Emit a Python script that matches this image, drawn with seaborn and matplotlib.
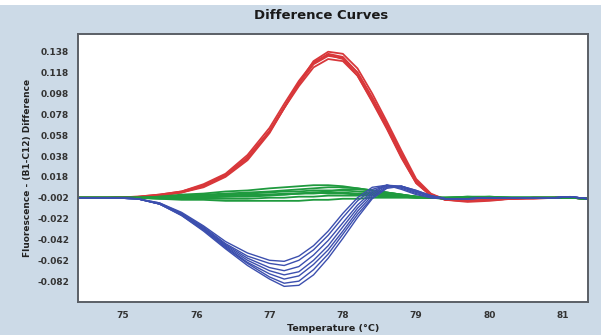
import matplotlib
matplotlib.use("Agg")
import matplotlib.pyplot as plt
from matplotlib.patches import Rectangle
import seaborn as sns
import pandas as pd

# Temperature grid (degrees C) shared by all curves
temps = [74.4, 74.8, 75.2, 75.5, 75.8, 76.1, 76.4, 76.7, 77.0, 77.2, 77.4, 77.6, 77.8, 78.0,
         78.2, 78.4, 78.6, 78.8, 79.0, 79.2, 79.4, 79.7, 80.0, 80.3, 80.6, 80.9, 81.1, 81.34]

# Red group (positive peak)
red_1 = [-0.002, -0.002, -0.0015, 0.000, 0.003, 0.009, 0.019, 0.036, 0.062, 0.085, 0.108, 0.127, 0.136, 0.133,
         0.118, 0.094, 0.068, 0.040, 0.014, 0.001, -0.004, -0.005, -0.004, -0.003, -0.0025, -0.002, -0.002, -0.003]
red_2 = [-0.002, -0.002, -0.0015, 0.000, 0.003, 0.008, 0.018, 0.034, 0.060, 0.084, 0.108, 0.129, 0.138, 0.136,
         0.122, 0.098, 0.071, 0.043, 0.016, 0.002, -0.004, -0.005, -0.004, -0.003, -0.002, -0.002, -0.002, -0.003]
red_3 = [-0.002, -0.002, -0.001, 0.001, 0.004, 0.010, 0.020, 0.037, 0.062, 0.084, 0.105, 0.123, 0.131, 0.129,
         0.115, 0.091, 0.065, 0.037, 0.012, 0.000, -0.004, -0.005, -0.004, -0.003, -0.003, -0.002, -0.002, -0.003]
red_4 = [-0.002, -0.002, -0.0015, 0.0005, 0.0035, 0.009, 0.019, 0.035, 0.061, 0.084, 0.107, 0.126, 0.134, 0.132,
         0.118, 0.094, 0.068, 0.040, 0.014, 0.001, -0.003, -0.005, -0.004, -0.003, -0.002, -0.002, -0.002, -0.003]
red_5 = [-0.002, -0.002, -0.001, 0.001, 0.004, 0.011, 0.021, 0.039, 0.065, 0.088, 0.110, 0.128, 0.135, 0.131,
         0.115, 0.090, 0.064, 0.036, 0.012, 0.000, -0.004, -0.006, -0.005, -0.003, -0.002, -0.002, -0.002, -0.003]

# Blue group (negative trough)
blue_1 = [-0.002, -0.002, -0.003, -0.007, -0.016, -0.029, -0.044, -0.055, -0.062, -0.063, -0.058, -0.048, -0.034, -0.017,
          -0.002, 0.008, 0.010, 0.006, 0.001, -0.002, -0.003, -0.003, -0.002, -0.002, -0.002, -0.002, -0.001, -0.003]
blue_2 = [-0.002, -0.002, -0.003, -0.007, -0.017, -0.030, -0.046, -0.058, -0.065, -0.067, -0.062, -0.052, -0.038, -0.021,
          -0.005, 0.006, 0.010, 0.007, 0.002, -0.002, -0.003, -0.003, -0.002, -0.002, -0.002, -0.002, -0.001, -0.003]
blue_3 = [-0.002, -0.002, -0.003, -0.008, -0.017, -0.031, -0.047, -0.060, -0.069, -0.072, -0.068, -0.057, -0.043, -0.026,
          -0.009, 0.004, 0.010, 0.008, 0.003, -0.001, -0.003, -0.003, -0.002, -0.002, -0.002, -0.002, -0.001, -0.003]
blue_4 = [-0.002, -0.002, -0.003, -0.008, -0.018, -0.032, -0.048, -0.062, -0.072, -0.076, -0.073, -0.062, -0.048, -0.030,
          -0.012, 0.002, 0.010, 0.009, 0.004, -0.001, -0.003, -0.003, -0.002, -0.002, -0.002, -0.002, -0.001, -0.003]
blue_5 = [-0.002, -0.002, -0.003, -0.008, -0.018, -0.032, -0.049, -0.064, -0.075, -0.080, -0.077, -0.066, -0.052, -0.034,
          -0.015, 0.000, 0.009, 0.009, 0.004, 0.000, -0.003, -0.003, -0.002, -0.002, -0.002, -0.002, -0.001, -0.003]
blue_6 = [-0.002, -0.002, -0.003, -0.008, -0.019, -0.033, -0.050, -0.065, -0.078, -0.084, -0.082, -0.071, -0.056, -0.037,
          -0.018, -0.002, 0.008, 0.009, 0.005, 0.000, -0.003, -0.003, -0.002, -0.002, -0.002, -0.002, -0.001, -0.003]
blue_7 = [-0.002, -0.002, -0.003, -0.008, -0.019, -0.034, -0.051, -0.067, -0.080, -0.087, -0.086, -0.076, -0.060, -0.041,
          -0.021, -0.003, 0.007, 0.009, 0.005, 0.000, -0.003, -0.003, -0.002, -0.002, -0.002, -0.002, -0.001, -0.003]

# Green group (close to baseline)
green_1 = [-0.002, -0.002, -0.002, -0.001, 0.000, 0.001, 0.002, 0.003, 0.004, 0.005, 0.006, 0.007, 0.008, 0.008,
           0.007, 0.005, 0.003, 0.001, -0.001, -0.002, -0.002, -0.001, -0.002, -0.002, -0.002, -0.002, -0.002, -0.003]
green_2 = [-0.002, -0.002, -0.002, -0.001, 0.001, 0.002, 0.004, 0.005, 0.007, 0.008, 0.009, 0.010, 0.010, 0.009,
           0.007, 0.005, 0.003, 0.001, -0.001, -0.002, -0.002, -0.001, -0.001, -0.002, -0.002, -0.002, -0.002, -0.003]
green_3 = [-0.002, -0.002, -0.002, -0.002, -0.001, 0.000, 0.001, 0.002, 0.003, 0.004, 0.004, 0.005, 0.005, 0.005,
           0.004, 0.003, 0.002, 0.000, -0.001, -0.002, -0.002, -0.002, -0.002, -0.002, -0.002, -0.002, -0.002, -0.003]
green_4 = [-0.002, -0.002, -0.002, -0.002, -0.002, -0.001, -0.001, 0.000, 0.001, 0.001, 0.002, 0.002, 0.003, 0.003,
           0.002, 0.002, 0.001, 0.000, -0.001, -0.002, -0.002, -0.002, -0.002, -0.002, -0.002, -0.002, -0.002, -0.003]
green_5 = [-0.002, -0.002, -0.002, -0.003, -0.003, -0.003, -0.003, -0.003, -0.002, -0.002, -0.001, -0.001, 0.000, 0.000,
           0.000, 0.000, -0.001, -0.001, -0.002, -0.002, -0.003, -0.002, -0.002, -0.002, -0.002, -0.002, -0.002, -0.003]
green_6 = [-0.002, -0.002, -0.002, -0.003, -0.004, -0.004, -0.005, -0.005, -0.005, -0.005, -0.005, -0.004, -0.004, -0.003,
           -0.003, -0.002, -0.002, -0.002, -0.002, -0.002, -0.003, -0.002, -0.002, -0.002, -0.002, -0.002, -0.002, -0.003]
green_7 = [-0.002, -0.002, -0.002, -0.002, -0.002, -0.002, -0.001, -0.001, 0.000, 0.001, 0.002, 0.003, 0.004, 0.006,
           0.006, 0.005, 0.003, 0.001, -0.001, -0.002, -0.002, -0.002, -0.001, -0.002, -0.002, -0.002, -0.002, -0.003]
green_8 = [-0.002, -0.002, -0.002, -0.002, -0.001, -0.001, 0.000, 0.001, 0.001, 0.002, 0.002, 0.003, 0.002, 0.002,
           0.001, 0.001, 0.000, -0.001, -0.002, -0.002, -0.002, -0.002, -0.002, -0.002, -0.002, -0.002, -0.002, -0.003]

x_ticks = [75, 76, 77, 78, 79, 80, 81]
y_ticks = [0.138, 0.118, 0.098, 0.078, 0.058, 0.038, 0.018, -0.002, -0.022, -0.042, -0.062, -0.082]
y_tick_labels = ["0.138", "0.118", "0.098", "0.078", "0.058", "0.038", "0.018",
                 "-0.002", "-0.022", "-0.042", "-0.062", "-0.082"]

groups = {
    "red": [red_1, red_2, red_3, red_4, red_5],
    "green": [green_1, green_2, green_3, green_4, green_5, green_6, green_7, green_8],
    "blue": [blue_1, blue_2, blue_3, blue_4, blue_5, blue_6, blue_7],
}

# long-form table: one row per point
rows = []
for grp, curves in groups.items():
    for i, curve in enumerate(curves):
        for t, v in zip(temps, curve):
            rows.append({"Temperature": t, "Difference": v, "group": grp, "curve": f"{grp}_{i}"})
df = pd.DataFrame(rows)

palette = {"red": "#d8373a", "green": "#1f9a3e", "blue": "#3c4fae"}
widths = {"red": 1.3, "green": 1.3, "blue": 1.0}

sns.set_style("white")
plt.rcParams["font.family"] = ["DejaVu Sans"]

fig = plt.figure(figsize=(6.01, 3.35), dpi=100, facecolor="white")
fig.patches.append(Rectangle((0, 0), 1, 0.985, transform=fig.transFigure,
                             facecolor="#ccdae7", edgecolor="none", zorder=-10))
ax = fig.add_axes([0.13, 0.0985, 0.848, 0.80])
ax.set_facecolor("white")

for grp in ["red", "green", "blue"]:
    sns.lineplot(data=df[df["group"] == grp], x="Temperature", y="Difference",
                 units="curve", estimator=None, color=palette[grp],
                 linewidth=widths[grp], ax=ax, legend=False)

ax.set_xlim(74.39, 81.34)
ax.set_ylim(-0.102, 0.155)
ax.set_xticks(x_ticks)
ax.set_xticklabels([str(t) for t in x_ticks])
ax.set_yticks(y_ticks)
ax.set_yticklabels(y_tick_labels)
ax.tick_params(axis="both", labelsize=6.5, colors="#333333", length=3, width=0.8, direction="out")
for lab in ax.get_xticklabels() + ax.get_yticklabels():
    lab.set_fontweight("bold")

for side in ["left", "bottom", "top", "right"]:
    ax.spines[side].set_color("#5a5f66")
    ax.spines[side].set_linewidth(1.4)

ax.set_xlabel("Temperature (°C)", fontsize=6.8, fontweight="bold", color="#222222", labelpad=3)
ax.set_ylabel("Fluorescence - (B1-C12) Difference", fontsize=6.5, fontweight="bold", color="#222222", labelpad=4)
fig.text(0.535, 0.955, "Difference Curves", ha="center", va="center",
         fontsize=9.5, fontweight="heavy", color="#1a1a1a")

plt.savefig("out.png", dpi=100, facecolor=fig.get_facecolor())
plt.close()
